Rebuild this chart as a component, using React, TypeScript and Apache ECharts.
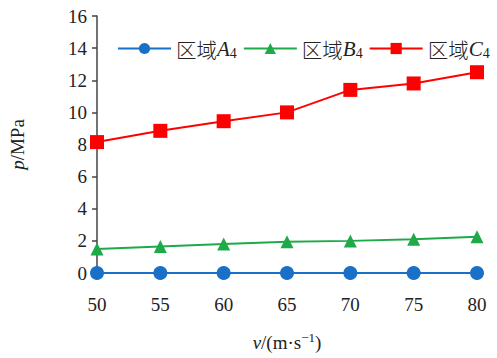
import React, { useEffect, useRef } from "react";
import * as echarts from "echarts";

const categories = ["50", "55", "60", "65", "70", "75", "80"];
const seriesA = [0, 0, 0, 0, 0, 0, 0];
const seriesB = [1.5, 1.65, 1.8, 1.95, 2.0, 2.1, 2.25];
const seriesC = [8.15, 8.85, 9.45, 10.0, 11.4, 11.8, 12.5];
const seriesNames = ["区域A4", "区域B4", "区域C4"];

const FONT = "Liberation Serif";

export default function App() {
  const ref = useRef<HTMLDivElement>(null);
  useEffect(() => {
    const chart = echarts.init(ref.current!, undefined, { renderer: "svg" });
    const mk = (name: string, data: number[], color: string, symbol: string, size: number) => ({
      name,
      type: "line",
      data,
      symbol,
      symbolSize: size,
      lineStyle: { color, width: 2 },
      itemStyle: { color },
    });
    chart.setOption({
      animation: false,
      textStyle: { fontFamily: FONT },
      grid: { left: 95, right: 20, top: 16, bottom: 85 },
      legend: {
        top: 33,
        left: 112,
        width: 400,
        itemWidth: 53,
        itemHeight: 14,
        itemGap: 6,
        data: seriesNames,
        formatter: (n: string) => `{t|${n.slice(0, 2)}}{i|${n.slice(2, 3)}}{s|${n.slice(3)}}`,
        textStyle: {
          fontFamily: FONT,
          color: "#222",
          rich: {
            t: { fontSize: 20.5, fontFamily: "Noto Sans CJK SC", fontWeight: 300, color: "#222" },
            i: { fontSize: 21, fontStyle: "italic", fontFamily: FONT, color: "#222" },
            s: { fontSize: 14, fontFamily: FONT, color: "#222", padding: [10, 0, 0, 0] },
          },
        },
      },
      xAxis: {
        type: "category",
        data: categories,
        boundaryGap: false,
        axisLine: { show: true, lineStyle: { color: "#444", width: 1.5 } },
        axisTick: { show: false },
        axisLabel: { fontSize: 19, color: "#222", fontFamily: FONT, margin: 22 },
        name: "{i|v}/(m·s{sup|−1})",
        nameLocation: "middle",
        nameGap: 58,
        nameTextStyle: {
          fontSize: 19,
          color: "#222",
          fontFamily: FONT,
          rich: {
            i: { fontSize: 19, fontStyle: "italic", fontFamily: FONT, color: "#222" },
            sup: { fontSize: 13, fontFamily: FONT, color: "#222", padding: [0, 0, 10, 0] },
          },
        },
      },
      yAxis: {
        type: "value",
        min: 0,
        max: 16,
        interval: 2,
        splitLine: { show: false },
        axisLine: { show: true, lineStyle: { color: "#444", width: 1.5 } },
        axisTick: { show: true, inside: false, length: 5, lineStyle: { color: "#444", width: 1.5 } },
        axisLabel: { fontSize: 19, color: "#222", fontFamily: FONT, margin: 10 },
        name: "{i|p}/MPa",
        nameLocation: "middle",
        nameRotate: 90,
        nameGap: 70,
        nameTextStyle: {
          fontSize: 19,
          color: "#222",
          fontFamily: FONT,
          rich: {
            i: { fontSize: 19, fontStyle: "italic", fontFamily: FONT, color: "#222" },
          },
        },
      },
      series: [
        mk(seriesNames[0], seriesA, "#1a6fc6", "circle", 14),
        mk(seriesNames[1], seriesB, "#1faa4a", "triangle", 13),
        mk(seriesNames[2], seriesC, "#ff0000", "rect", 14),
      ],
    });
    return () => chart.dispose();
  }, []);
  return <div ref={ref} style={{ width: 497, height: 358, position: "absolute", left: 0, top: 0, background: "#fff" }} />;
}
